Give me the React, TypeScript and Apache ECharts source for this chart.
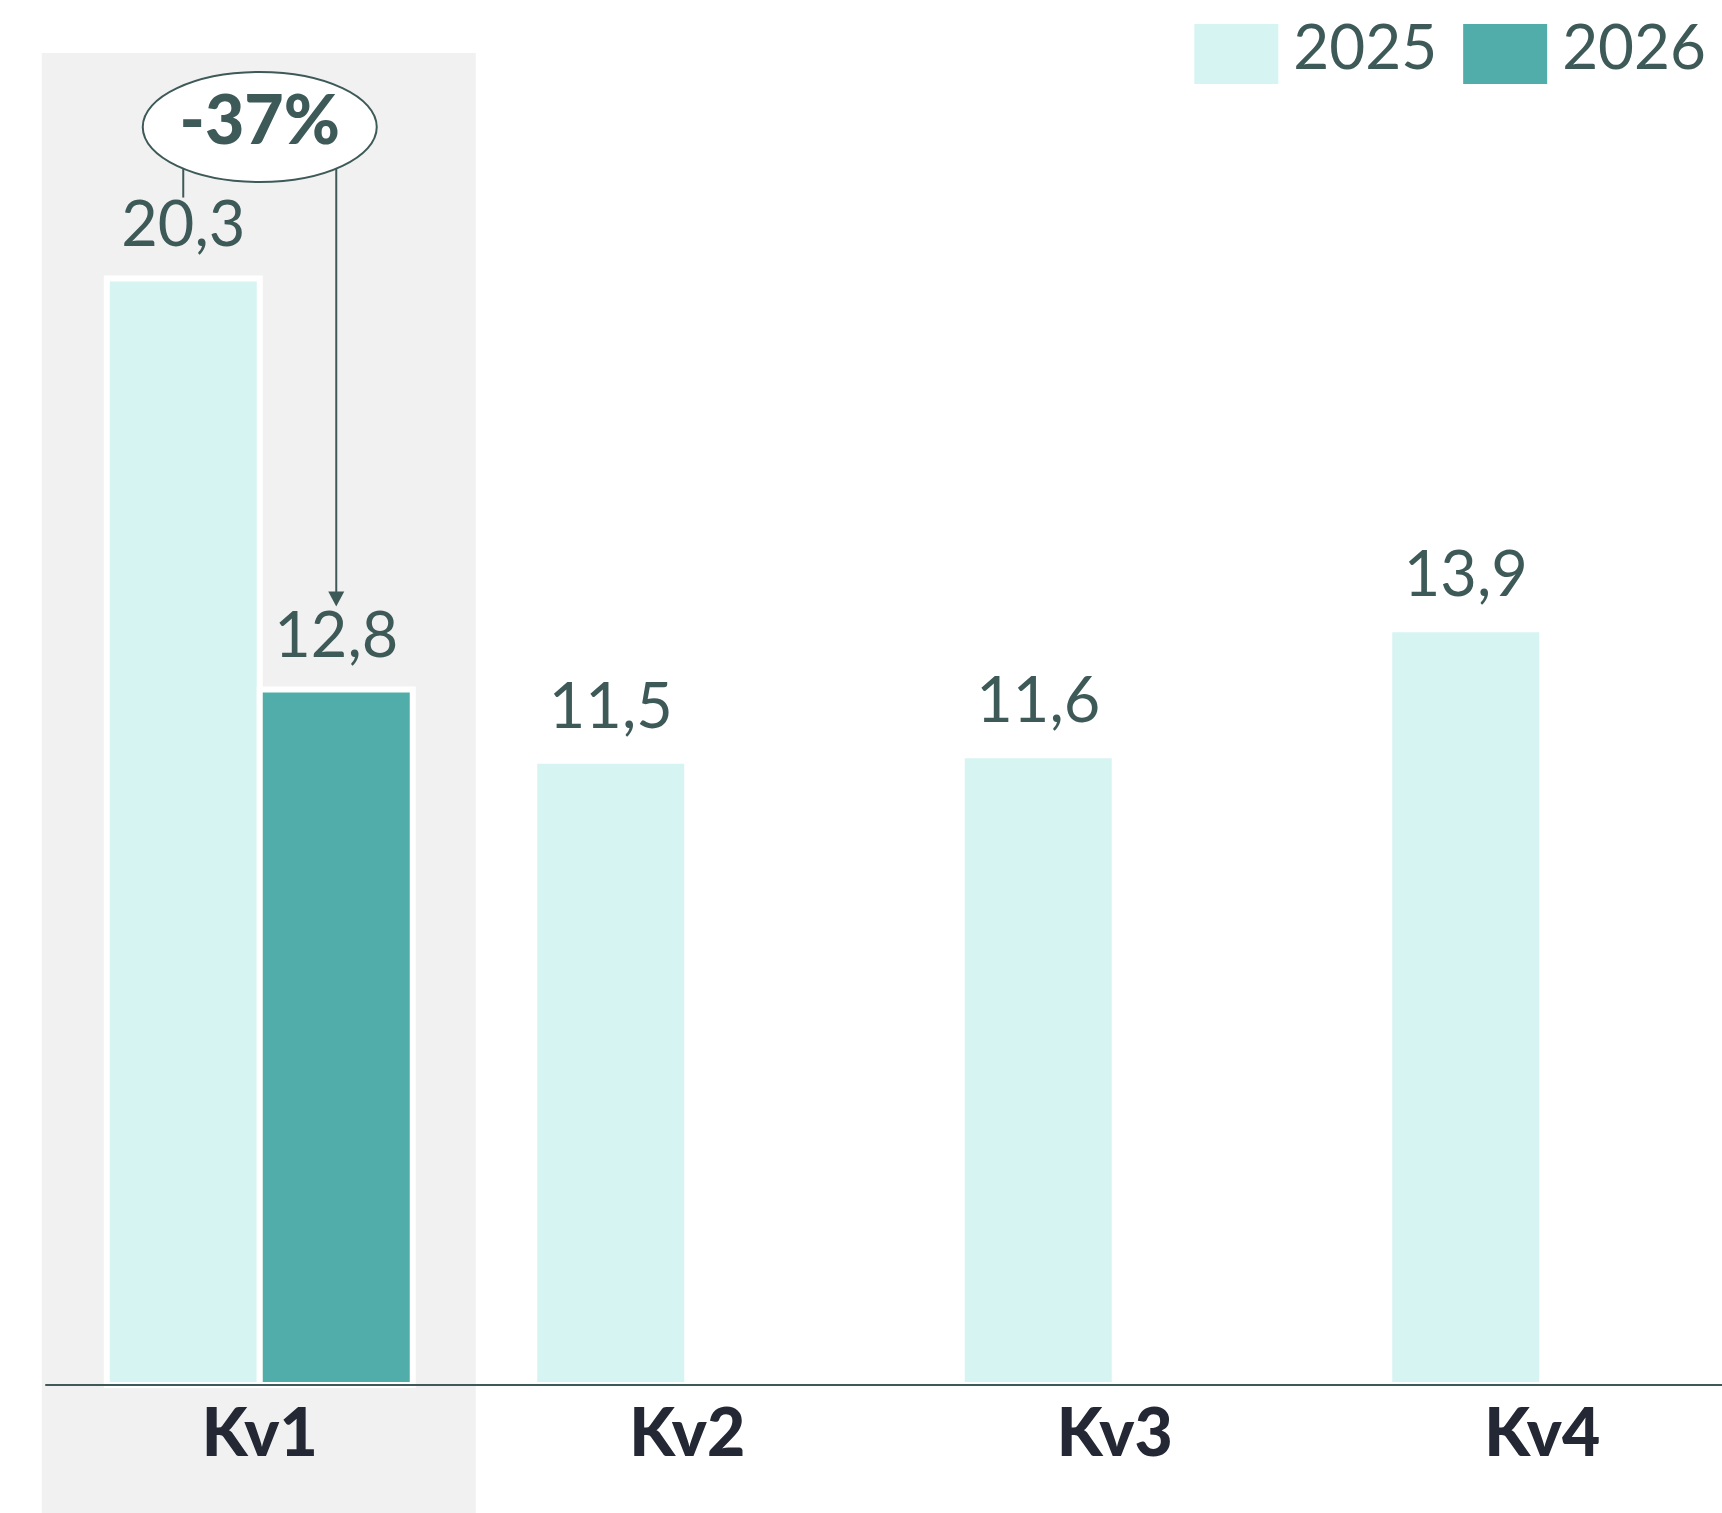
import React, { useEffect, useRef } from "react";
import * as echarts from "echarts";

const categories = ["Kv1", "Kv2", "Kv3", "Kv4"];
const seriesNames = ["2025", "2026"];
const values2025 = [20.3, 11.5, 11.6, 13.9];
const values2026: (number | null)[] = [12.8, null, null, null];
const changeLabel = "-37%";

const TEXT = "#3e5a58";
const DARK = "#232834";
const C2025 = "#d6f4f2";
const C2026 = "#50ada9";
const PANEL = "#f1f1f1";
const FONT = "Lato, 'Noto Sans', sans-serif";

const fmt = (p: any) =>
  p.value == null ? "" : Number(p.value).toFixed(1).replace(".", ",");

export default function App() {
  const ref = useRef<HTMLDivElement>(null);

  useEffect(() => {
    if (!ref.current) return;
    const chart = echarts.init(ref.current, null, { renderer: "svg" });
    const border = 6;
    const barWidth = 159;
    const label = {
      show: true,
      position: "top",
      distance: 23,
      formatter: fmt,
      color: TEXT,
      fontFamily: FONT,
      fontSize: 63,
      fontWeight: "normal",
    };
    const barCommon = {
      type: "bar",
      barWidth,
      barGap: `${(-border / barWidth) * 100}%`,
      label,
    };
    chart.setOption({
      animation: false,
      backgroundColor: "#ffffff",
      grid: {
        left: 46,
        top: 18,
        width: 1710,
        height: 1370,
        containLabel: false,
        outerBoundsMode: "none",
      },
      legend: {
        right: 11,
        top: 9,
        itemWidth: 84,
        itemHeight: 60,
        itemGap: 26,
        icon: "rect",
        itemStyle: { borderWidth: 0 },
        data: seriesNames,
        formatter: "{t|{name}}",
        textStyle: {
          color: TEXT,
          fontFamily: FONT,
          fontSize: 62,
          rich: {
            t: {
              color: TEXT,
              fontFamily: FONT,
              fontSize: 62,
              padding: [0, 0, 18, 10],
            },
          },
        },
      },
      xAxis: {
        type: "category",
        data: categories,
        z: 10,
        offset: -3,
        axisLine: { show: true, lineStyle: { color: TEXT, width: 2 } },
        axisTick: { show: false },
        axisLabel: {
          margin: 12,
          color: DARK,
          fontFamily: FONT,
          fontSize: 66,
          fontWeight: 900,
        },
      },
      yAxis: { type: "value", min: 0, max: 25, show: false, splitLine: { show: false } },
      series: [
        {
          ...barCommon,
          name: seriesNames[0],
          data: values2025,
          itemStyle: { color: C2025, borderColor: "#ffffff", borderWidth: border },
        },
        {
          ...barCommon,
          name: seriesNames[1],
          data: values2026,
          itemStyle: { color: C2026, borderColor: "#ffffff", borderWidth: border },
        },
      ],
    });

    const cx = chart.convertToPixel({ xAxisIndex: 0 }, categories[0]) as number;
    const half = (barWidth - border) / 2;
    const x25 = cx - half;
    const x26 = cx + half;
    const yTop25 = chart.convertToPixel({ yAxisIndex: 0 }, values2025[0]) as number;
    const yTop26 = chart.convertToPixel({ yAxisIndex: 0 }, values2026[0] as number) as number;
    const ecy = 127, erx = 117, ery = 55;
    const eb = (x: number) => ecy + ery * Math.sqrt(Math.max(0, 1 - ((x - cx) / erx) ** 2));
    const tipY = yTop26 - 80;

    chart.setOption({
      graphic: [
        {
          type: "rect",
          z: -10,
          silent: true,
          shape: { x: cx - 218, y: 53, width: 434, height: 1513 - 53 },
          style: { fill: PANEL },
        },
        {
          type: "line",
          z: 90,
          shape: { x1: x25, y1: eb(x25), x2: x25, y2: yTop25 - 78 },
          style: { stroke: TEXT, lineWidth: 2 },
        },
        {
          type: "line",
          z: 90,
          shape: { x1: x26, y1: eb(x26), x2: x26, y2: tipY - 10 },
          style: { stroke: TEXT, lineWidth: 2 },
        },
        {
          type: "polygon",
          z: 90,
          shape: {
            points: [
              [x26 - 8, tipY - 15],
              [x26 + 8, tipY - 15],
              [x26, tipY],
            ],
          },
          style: { fill: TEXT },
        },
        {
          type: "ellipse",
          z: 100,
          shape: { cx, cy: ecy, rx: erx, ry: ery },
          style: { fill: "#ffffff", stroke: TEXT, lineWidth: 2 },
        },
        {
          type: "text",
          z: 101,
          x: cx,
          y: 117,
          style: {
            text: changeLabel,
            fill: TEXT,
            font: `900 68px ${FONT}`,
            textAlign: "center",
            textVerticalAlign: "middle",
          },
        },
      ],
    });

    return () => chart.dispose();
  }, []);

  return (
    <div
      ref={ref}
      style={{ position: "fixed", left: 0, top: 0, width: 1722, height: 1513 }}
    />
  );
}
